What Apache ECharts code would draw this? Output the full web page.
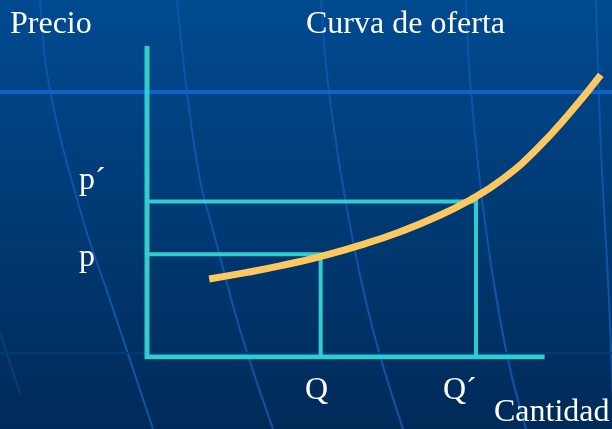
<!DOCTYPE html>
<html>
<head>
<meta charset="utf-8">
<script src="https://cdn.jsdelivr.net/npm/echarts@6/dist/echarts.min.js"></script>
<style>
html,body{margin:0;padding:0;}
#chart{width:612px;height:429px;background:linear-gradient(to bottom,#004a90 0%,#003a74 50%,#002a58 100%);}
</style>
</head>
<body>
<div id="chart"></div>
<script>
// ---- data ----
var priceAxisTop = 100;          // vertical (Precio) axis extent
var quantityAxisEnd = 87;        // horizontal (Cantidad) axis extent
var priceLevels = [33, 50];      // p, p´
var quantityLevels = [38, 72];   // Q, Q´
var supplyX = [13.6, 21.9, 29.1, 37.9, 48.1, 55.4, 62.6, 70.7, 77.9, 85.3, 92.6, 99.3];
var supplyY = [25.1, 27.2, 29.3, 32.3, 36.6, 40.3, 44.6, 50.5, 57.3, 66.9, 78.6, 90.7];
var priceTickLabels = ['p', 'p\u00b4'];
var quantityTickLabels = ['Q', 'Q\u00b4'];
var yAxisTitle = 'Precio';
var xAxisTitle = 'Cantidad';
var chartTitle = 'Curva de oferta';

// ---- chart ----
var chart = echarts.init(document.getElementById('chart'), null, {renderer: 'canvas'});
var teal = '#33CCCC';
var font = '32px "Liberation Serif", "Times New Roman", serif';

function guide(i) {
  return [[0, priceLevels[i]], [quantityLevels[i], priceLevels[i]], [quantityLevels[i], 0]];
}
function lineSeries(data, color, width, z) {
  return {
    type: 'line', data: data, symbol: 'none', silent: true, animation: false, z: z,
    lineStyle: {color: color, width: width, cap: 'butt', join: 'miter'}
  };
}
var supplyData = supplyX.map(function (x, i) { return [x, supplyY[i]]; });

function decor(points, color, width) {
  return {type: 'polyline', z: 0, silent: true,
    shape: {points: points, smooth: 0.4},
    style: {stroke: color, lineWidth: width, fill: null}};
}
function label(text, x, y) {
  return {type: 'text', z: 100, silent: true, x: x, y: y,
    style: {text: text, font: font, fill: '#ffffff', align: 'left', verticalAlign: 'middle'}};
}

var option = {
  backgroundColor: 'transparent',
  animation: false,
  grid: {left: 147, top: 46, right: 8, bottom: 72},
  xAxis: {type: 'value', min: 0, max: 100, show: false},
  yAxis: {type: 'value', min: 0, max: 100, show: false},
  graphic: [
    decor([[40,0],[50,90],[83,220],[110,300],[153,429]], '#0b56aa', 2),
    decor([[177,0],[187,92],[200,180],[213,230],[240,330],[273,429]], '#0b56aa', 2),
    decor([[321,0],[329,92],[349,220],[373,330],[403,429]], '#0b56aa', 2),
    decor([[466,0],[471,92],[486,230],[506,350],[526,429]], '#0b56aa', 2),
    decor([[596,0],[601,150],[609,300],[614,429]], '#0b56aa', 2),
    decor([[0,333],[20,393]], '#063e7c', 2),
    {type: 'line', z: 1, silent: true, shape: {x1: 0, y1: 92, x2: 612, y2: 92},
      style: {stroke: '#0e62c9', lineWidth: 4}},
    {type: 'line', z: 1, silent: true, shape: {x1: 0, y1: 353, x2: 612, y2: 353},
      style: {stroke: '#003b76', lineWidth: 2}},
    label(yAxisTitle, 10, 24.5),
    label(chartTitle, 306, 24.5),
    label(priceTickLabels[1], 79, 180.5),
    label(priceTickLabels[0], 79, 257.5),
    label(quantityTickLabels[0], 305, 390.5),
    label(quantityTickLabels[1], 443, 390.5),
    label(xAxisTitle, 494, 412.5)
  ],
  series: [
    lineSeries(guide(0), teal, 4, 3),
    lineSeries(guide(1), teal, 4, 3),
    lineSeries([[0, priceAxisTop], [0, 0], [quantityAxisEnd, 0]], teal, 5, 4),
    Object.assign(lineSeries(supplyData, '#FFC85E', 7, 5), {smooth: 0.5})
  ]
};
chart.setOption(option);
</script>
</body>
</html>
